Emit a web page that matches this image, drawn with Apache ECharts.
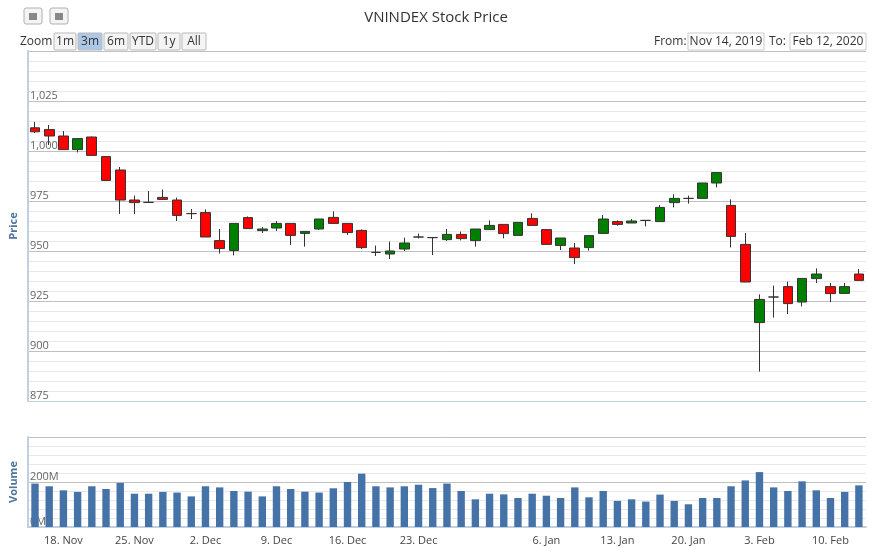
<!DOCTYPE html>
<html lang="en">
  <head>
    <meta charset="UTF-8" />
    <title>VNINDEX Stock Price</title>
    <script src="https://cdn.jsdelivr.net/npm/echarts@6/dist/echarts.min.js"></script>
  </head>
  <body style="margin:0">
    <div id="main" style="width: 872px; height: 547px"></div>
    <script type="text/javascript">
      const dates = [
        "2019-11-14","2019-11-15","2019-11-18","2019-11-19","2019-11-20","2019-11-21","2019-11-22",
        "2019-11-25","2019-11-26","2019-11-27","2019-11-28","2019-11-29",
        "2019-12-02","2019-12-03","2019-12-04","2019-12-05","2019-12-06",
        "2019-12-09","2019-12-10","2019-12-11","2019-12-12","2019-12-13",
        "2019-12-16","2019-12-17","2019-12-18","2019-12-19","2019-12-20",
        "2019-12-23","2019-12-24","2019-12-25","2019-12-26","2019-12-27",
        "2019-12-30","2019-12-31","2020-01-02","2020-01-03",
        "2020-01-06","2020-01-07","2020-01-08","2020-01-09","2020-01-10",
        "2020-01-13","2020-01-14","2020-01-15","2020-01-16","2020-01-17",
        "2020-01-20","2020-01-21","2020-01-22","2020-01-30","2020-01-31",
        "2020-02-03","2020-02-04","2020-02-05","2020-02-06","2020-02-07",
        "2020-02-10","2020-02-11","2020-02-12"
      ];
      // [open, close, low, high]
      const ohlc = [
        [1011.6,1009.6,1009,1014.5],[1010.7,1007.5,1003,1013],[1007.5,1000.7,1000.5,1010],
        [1000.7,1006.2,999.3,1006.5],[1007,997.8,997.8,1007.2],[997.2,985.3,985,997.5],
        [990.5,975.5,968.5,992],[975.5,974.2,968.5,977.7],[974.3,974.3,974,980],
        [976.8,975.8,975.5,980.7],[975.5,967.8,965,976.7],[968.7,968.7,966,971],
        [969.2,957,957,970.8],[955.2,951.2,948.7,961],[950.3,963.8,947.8,963.8],
        [966.7,961.2,961,967.3],[960.2,961,959,962],[961.5,963.8,960,965],
        [963.8,957.8,953,963.8],[958.8,959.8,952.2,959.8],[961,966,960.5,966],
        [966.8,963.8,963.8,969.8],[963.8,959.2,958,963.8],[960.3,951.7,951,960.8],
        [949.3,949.3,947.5,952.7],[948.5,950,946,954.7],[951,954,950,956.7],
        [957,957,956.3,958.7],[956.7,956.7,948,956.9],[955.7,958.3,955,961],
        [958.3,956.2,955.3,959.7],[955.2,961,952.2,961],[960.7,962.8,960.5,965.3],
        [963.3,958.7,956.3,963.3],[957.8,964.3,957.8,964.3],[966.3,962.8,962.8,968.8],
        [960.7,953.3,953.3,960.7],[952.8,956.5,950.5,956.5],[951.5,946.7,943.5,954],
        [951.7,957.7,950.2,957.7],[958.8,966,958.8,968],[964.7,963.3,962.7,965.3],
        [964,965,964,966],[965.3,965.3,962.3,965.5],[964.7,971.8,964.7,973],
        [974.2,976.3,971.8,978.3],[976.3,976.3,973.7,977.7],[976.3,984,976.3,984],
        [984,989.2,981.8,989.2],[972.8,957.3,951.8,975.8],[953.3,934.5,934.5,959],
        [914.2,925.8,889.7,928.3],[927,927,916.7,932.7],[932.2,923.7,918.5,934.7],
        [924.5,936.3,922.3,936.3],[936.2,938.5,934,941.3],[932.2,928.7,924.5,934],
        [928.8,932.2,928.8,934],[938.5,935.3,935.3,941]
      ];
      const volumes = [
        193,181,163,156,181,169,196,148,148,156,153,136,181,176,160,157,136,181,169,157,
        153,172,200,237,181,176,181,188,173,193,160,123,148,145,129,148,139,129,176,132,
        160,116,123,113,144,116,101,129,129,181,207,244,176,160,203,163,129,156,185
      ];
      const tickDates = {
        "2019-11-18":"18. Nov","2019-11-25":"25. Nov","2019-12-02":"2. Dec","2019-12-09":"9. Dec",
        "2019-12-16":"16. Dec","2019-12-23":"23. Dec","2020-01-06":"6. Jan","2020-01-13":"13. Jan",
        "2020-01-20":"20. Jan","2020-02-03":"3. Feb","2020-02-10":"10. Feb"
      };
      const zoomButtons = ["1m","3m","6m","YTD","1y","All"];

      const major = "#c0c0c0", minor = "#e8e8e8";
      const showTick = (i, v) => v in tickDates;

      const graphic = [];
      // export / print icons
      [[24, 8], [50, 8]].forEach(([x, y]) => {
        graphic.push({ type: "rect", shape: { x, y, width: 18, height: 16, r: 2 },
          style: { fill: "#f4f4f4", stroke: "#b0b0b0" } });
        graphic.push({ type: "rect", shape: { x: x + 5, y: y + 5, width: 8, height: 7 },
          style: { fill: "#888" } });
      });
      graphic.push({ type: "text", left: 20, top: 36, style: { text: "Zoom", fontSize: 12, fill: "#333", fontFamily: "Open Sans" } });
      const bw = [24, 26, 26, 28, 24, 26];
      let bx = 54;
      zoomButtons.forEach((b, i) => {
        graphic.push({ type: "rect", shape: { x: bx, y: 33, width: bw[i] - 2, height: 17, r: 1 },
          style: { fill: i === 1 ? "#acc8e6" : "#f4f4f4", stroke: "#b8b8b8" } });
        graphic.push({ type: "text", x: bx + (bw[i] - 2) / 2, y: 41.5,
          style: { text: b, fontSize: 12, fill: "#333", align: "center", verticalAlign: "middle", fontFamily: "Open Sans" } });
        bx += bw[i];
      });
      graphic.push({ type: "text", x: 654, y: 42, style: { text: "From:", fontSize: 12, fill: "#333", verticalAlign: "middle", fontFamily: "Open Sans" } });
      graphic.push({ type: "rect", shape: { x: 688, y: 33, width: 76, height: 17 }, style: { fill: "#fff", stroke: "#ccc" } });
      graphic.push({ type: "text", x: 726, y: 42, style: { text: "Nov 14, 2019", fontSize: 12, fill: "#333", align: "center", verticalAlign: "middle", fontFamily: "Open Sans" } });
      graphic.push({ type: "text", x: 769, y: 42, style: { text: "To:", fontSize: 12, fill: "#333", verticalAlign: "middle", fontFamily: "Open Sans" } });
      graphic.push({ type: "rect", shape: { x: 790, y: 33, width: 76, height: 17 }, style: { fill: "#fff", stroke: "#ccc" } });
      graphic.push({ type: "text", x: 828, y: 42, style: { text: "Feb 12, 2020", fontSize: 12, fill: "#333", align: "center", verticalAlign: "middle", fontFamily: "Open Sans" } });

      const options = {
        animation: false,
        textStyle: { fontFamily: "Open Sans" },
        title: { text: "VNINDEX Stock Price", left: "center", top: 5,
          textStyle: { fontSize: 15, fontWeight: "normal", color: "#333" } },
        graphic,
        grid: [
          { left: 20, right: 6, top: 51, height: 350 },
          { left: 20, right: 6, top: 437, height: 90 }
        ],
        xAxis: [
          { type: "category", data: dates, gridIndex: 0,
            axisLine: { lineStyle: { color: "#c0d0e0" } },
            axisTick: { show: false }, axisLabel: { show: false } },
          { type: "category", data: dates, gridIndex: 1,
            axisLine: { lineStyle: { color: "#c0d0e0", width: 2 } },
            axisTick: { interval: showTick, lineStyle: { color: "#c0d0e0" } },
            axisLabel: { interval: showTick, formatter: (v) => tickDates[v] || "",
              color: "#444", fontSize: 11 } }
        ],
        yAxis: [
          { type: "value", gridIndex: 0, min: 875, max: 1050, interval: 5,
            name: "Price", nameLocation: "middle", nameGap: 8, nameRotate: 90,
            nameTextStyle: { color: "#4d759e", fontWeight: "bold", fontSize: 11 },
            axisLine: { show: true, lineStyle: { color: "#c0d0e0", width: 2 } },
            splitLine: { lineStyle: { color: [major, minor, minor, minor, minor] } },
            axisLabel: { inside: true, verticalAlign: "bottom", margin: 2, color: "#666", fontSize: 11,
              formatter: (v) => (v % 25 === 0 && v < 1050 ? v.toLocaleString("en-US") : "") } },
          { type: "value", gridIndex: 1, min: 0, max: 400, interval: 40,
            name: "Volume", nameLocation: "middle", nameGap: 8, nameRotate: 90,
            nameTextStyle: { color: "#4d759e", fontWeight: "bold", fontSize: 11 },
            axisLine: { show: true, lineStyle: { color: "#c0d0e0", width: 2 } },
            splitLine: { lineStyle: { color: [major, minor, minor, minor, minor] } },
            axisLabel: { inside: true, verticalAlign: "bottom", margin: 2, color: "#666", fontSize: 11,
              formatter: (v) => (v === 0 || v === 200 ? v + "M" : "") } }
        ],
        series: [
          { type: "candlestick", data: ohlc, xAxisIndex: 0, yAxisIndex: 0, barWidth: "72%",
            itemStyle: { color: "#008000", color0: "#ff0000", borderColor: "#333", borderColor0: "#333", borderWidth: 1 } },
          { type: "bar", data: volumes, xAxisIndex: 1, yAxisIndex: 1, barWidth: "52%",
            itemStyle: { color: "#4572a7" } }
        ]
      };
      let myChart = echarts.init(document.getElementById("main"));
      myChart.setOption(options);
    </script>
  </body>
</html>
